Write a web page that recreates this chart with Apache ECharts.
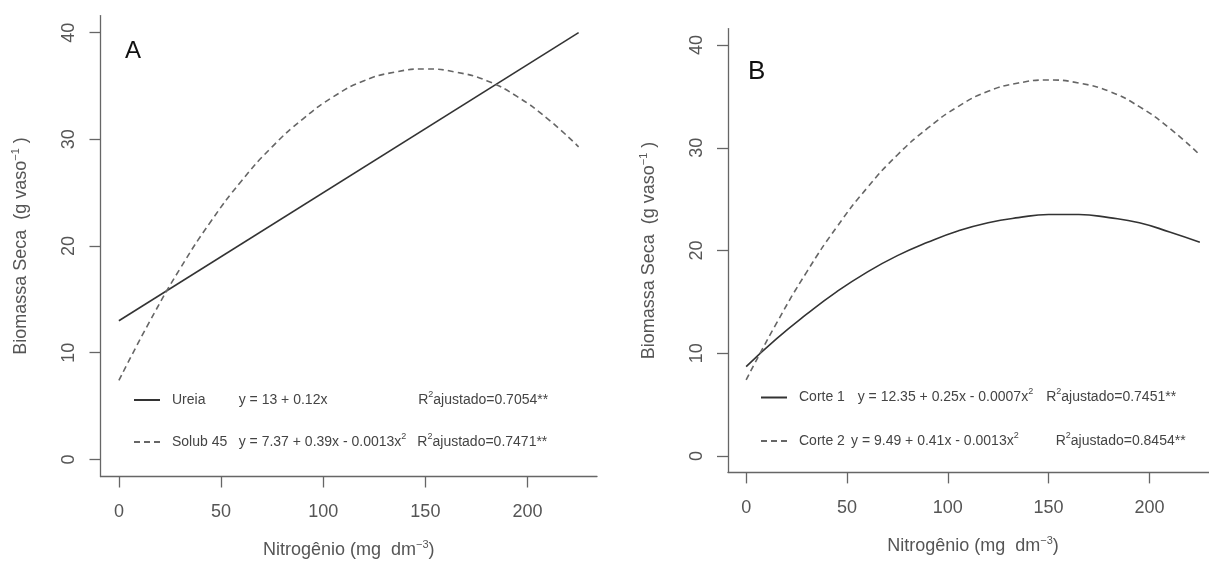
<!DOCTYPE html>
<html>
<head>
<meta charset="utf-8">
<script src="https://cdn.jsdelivr.net/npm/echarts@6/dist/echarts.min.js"></script>
<style>
  html, body { margin: 0; background: #fff; }
  #chart { width: 1209px; height: 567px; }
</style>
</head>
<body>
<div id="chart"></div>
<script>
// valores
const nitrogen = [0, 15, 30, 45, 60, 75, 90, 105, 120, 135, 150, 165, 180, 195, 210, 225];
const solub45 = [7.4, 12.9, 17.9, 22.3, 26.1, 29.3, 31.9, 34.0, 35.5, 36.3, 36.6, 36.3, 35.5, 34.0, 31.9, 29.3];
const ureiaX = [0, 225];
const ureia = [13, 40];
const corte1 = [8.7, 11.4, 13.8, 16.0, 17.9, 19.5, 20.8, 21.9, 22.7, 23.2, 23.5, 23.5, 23.2, 22.7, 21.8, 20.8];
const corte2 = [7.4, 12.9, 17.9, 22.3, 26.1, 29.3, 31.9, 34.0, 35.5, 36.3, 36.6, 36.3, 35.5, 34.0, 31.9, 29.3];
const xTicks = [0, 50, 100, 150, 200];
const yTicks = [0, 10, 20, 30, 40];

const font = 'Liberation Sans, Arial, sans-serif';
const grey = '#555';

function pairs(xs, ys) {
  return xs.map((x, i) => [x, ys[i]]);
}

function xAxis(gi) {
  return {
    type: 'value', gridIndex: gi, min: -9, max: 234,
    name: '{t|Nitrogênio (mg  dm}{s|−3}{t|)}',
    nameLocation: 'middle', nameGap: 63,
    nameTextStyle: {
      color: grey, fontFamily: font,
      rich: {
        t: { fontSize: 18, color: grey, fontFamily: font, lineHeight: 22 },
        s: { fontSize: 11, color: grey, fontFamily: font, lineHeight: 11, verticalAlign: 'top' }
      }
    },
    axisLine: { show: true, onZero: false, lineStyle: { color: '#666', width: 1.3 } },
    axisTick: { show: true, length: 11, customValues: xTicks, lineStyle: { color: '#666', width: 1.3 } },
    axisLabel: { customValues: xTicks, margin: 27, fontSize: 18, color: grey, fontFamily: font },
    splitLine: { show: false }
  };
}

function yAxis(gi) {
  return {
    type: 'value', gridIndex: gi, min: -1.6, max: 41.6,
    name: '{t|Biomassa Seca  (g vaso}{s|−1}{t| )}',
    nameLocation: 'middle', nameGap: 68,
    nameTextStyle: {
      color: grey, fontFamily: font,
      rich: {
        t: { fontSize: 18, color: grey, fontFamily: font, lineHeight: 22 },
        s: { fontSize: 11, color: grey, fontFamily: font, lineHeight: 11, verticalAlign: 'top' }
      }
    },
    axisLine: { show: true, onZero: false, lineStyle: { color: '#666', width: 1.3 } },
    axisTick: { show: true, length: 11, customValues: yTicks, lineStyle: { color: '#666', width: 1.3 } },
    axisLabel: { customValues: yTicks, rotate: 90, margin: 22, fontSize: 18, color: grey, fontFamily: font },
    splitLine: { show: false }
  };
}

const legendRich = {
  p: { width: 7 },
  n: { width: 66.7 },
  nb1: { width: 58.7 },
  nb2: { width: 52 },
  ea1: { width: 179.5 },
  ga2: { width: 11 },
  gb1: { width: 13 },
  gb2: { width: 37 },
  s: { fontSize: 9, lineHeight: 10, verticalAlign: 'top', color: '#444' }
};

const legendText = {
  'Ureia': '{p| }{n|Ureia}{ea1|y = 13 + 0.12x}R{s|2}ajustado=0.7054**',
  'Solub 45': '{p| }{n|Solub 45}y = 7.37 + 0.39x - 0.0013x{s|2}{ga2| }R{s|2}ajustado=0.7471**',
  'Corte 1': '{p| }{nb1|Corte 1}y = 12.35 + 0.25x - 0.0007x{s|2}{gb1| }R{s|2}ajustado=0.7451**',
  'Corte 2': '{p| }{nb2|Corte 2}y = 9.49 + 0.41x - 0.0013x{s|2}{gb2| }R{s|2}ajustado=0.8454**'
};

function legend(names, left, top, gap) {
  return {
    data: names, orient: 'vertical', left: left, top: top, padding: 0,
    itemWidth: 26, itemHeight: 20, itemGap: gap, selectedMode: false,
    itemStyle: { opacity: 0 },
    formatter: name => legendText[name],
    textStyle: { fontSize: 14, color: '#444', fontFamily: font, lineHeight: 20, rich: legendRich }
  };
}

const solid = { color: '#333', width: 1.6, type: 'solid' };
const dashed = { color: '#666', width: 1.6, type: [6, 4] };

const option = {
  backgroundColor: '#fff',
  animation: false,
  title: [
    { text: 'A', left: 125, top: 39, padding: 0, textStyle: { fontSize: 24, fontWeight: 'normal', color: '#111', fontFamily: font } },
    { text: 'B', left: 748, top: 59, padding: 0, textStyle: { fontSize: 26, fontWeight: 'normal', color: '#111', fontFamily: font } }
  ],
  grid: [
    { left: 100.5, top: 15.6, width: 496.5, height: 460.9, outerBoundsMode: 'none' },
    { left: 728, top: 28.6, width: 490, height: 443.8, outerBoundsMode: 'none' }
  ],
  xAxis: [xAxis(0), xAxis(1)],
  yAxis: [yAxis(0), yAxis(1)],
  legend: [
    legend(['Ureia', 'Solub 45'], 133, 390, 22),
    legend(['Corte 1', 'Corte 2'], 760, 387.5, 23.5)
  ],
  series: [
    { name: 'Ureia', type: 'line', xAxisIndex: 0, yAxisIndex: 0, data: pairs(ureiaX, ureia), symbol: 'none', lineStyle: solid, itemStyle: { color: '#333' } },
    { name: 'Solub 45', type: 'line', xAxisIndex: 0, yAxisIndex: 0, data: pairs(nitrogen, solub45), smooth: true, symbol: 'none', lineStyle: dashed, itemStyle: { color: '#666' } },
    { name: 'Corte 1', type: 'line', xAxisIndex: 1, yAxisIndex: 1, data: pairs(nitrogen, corte1), smooth: true, symbol: 'none', lineStyle: solid, itemStyle: { color: '#333' } },
    { name: 'Corte 2', type: 'line', xAxisIndex: 1, yAxisIndex: 1, data: pairs(nitrogen, corte2), smooth: true, symbol: 'none', lineStyle: dashed, itemStyle: { color: '#666' } }
  ]
};

const chart = echarts.init(document.getElementById('chart'));
chart.setOption(option);
window.addEventListener('resize', function () {
  chart.resize();
});
</script>
</body>
</html>
